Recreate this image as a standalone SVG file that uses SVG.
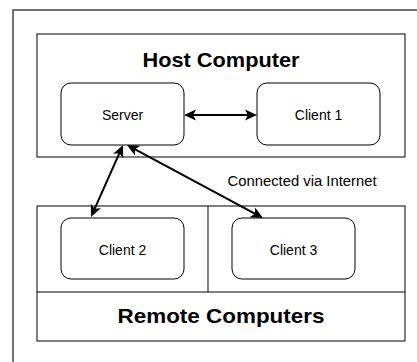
<svg xmlns="http://www.w3.org/2000/svg" width="417" height="362" viewBox="0 0 417 362">
  <style>
    .frame { fill: none; stroke: #444; stroke-width: 1.5; }
    .box { fill: #fff; stroke: #000; stroke-width: 1; }
    .node { fill: #fff; stroke: #000; stroke-width: 1; }
    .title { font-family: "Liberation Sans", Arial, Helvetica, sans-serif; font-weight: bold; font-size: 21px; fill: #000; text-anchor: middle; }
    .label { font-family: "Liberation Sans", Arial, Helvetica, sans-serif; font-size: 14px; fill: #000; text-anchor: middle; }
    .link { fill: none; stroke: #000; stroke-width: 2; marker-start: url(#arrow); marker-end: url(#arrow); }
  </style>
  <defs>
    <marker id="arrow" viewBox="0 0 12 12" refX="8" refY="6" markerWidth="12" markerHeight="12" markerUnits="userSpaceOnUse" orient="auto-start-reverse">
      <path d="M0,0.5 L12,6 L0,11.5 L3,6 Z" fill="#000"/>
    </marker>
  </defs>

  <rect fill="#fff" x="0" y="0" width="417" height="362"/>
  <!-- outer frame, running past the right and bottom edges -->
  <rect class="frame" x="13" y="10" width="420" height="370"/>

  <!-- host computer group -->
  <g id="host">
    <rect class="box" x="37" y="34" width="368" height="123"/>
    <text class="title" x="221" y="67" textLength="157" lengthAdjust="spacingAndGlyphs">Host Computer</text>
  </g>

  <!-- remote computers group -->
  <g id="remote">
    <rect class="box" x="37" y="206" width="368" height="135"/>
    <line x1="37" y1="292" x2="405" y2="292" stroke="#000" stroke-width="1"/>
    <line x1="208" y1="206" x2="208" y2="292" stroke="#000" stroke-width="1"/>
    <text class="title" x="221" y="323" textLength="207" lengthAdjust="spacingAndGlyphs">Remote  Computers</text>
  </g>

  <g id="server">
    <rect class="node" x="61" y="83" width="123" height="62" rx="10"/>
    <text class="label" x="122.5" y="120">Server</text>
  </g>
  <g id="client1">
    <rect class="node" x="257" y="83" width="123" height="62" rx="10"/>
    <text class="label" x="318.5" y="120">Client 1</text>
  </g>
  <g id="client2">
    <rect class="node" x="61" y="218" width="123" height="61" rx="10"/>
    <text class="label" x="122.5" y="254.5">Client 2</text>
  </g>
  <g id="client3">
    <rect class="node" x="232" y="218" width="123" height="61" rx="10"/>
    <text class="label" x="293.5" y="254.5">Client 3</text>
  </g>

  <!-- connectors -->
  <g id="connectors">
    <path class="link" d="M188,115 L253,115"/>
    <path class="link" d="M121.4,148.7 L92.6,213.3"/>
    <path class="link" d="M130.5,146.9 L259.5,216.1"/>
    <text class="label" x="302" y="186" textLength="149" lengthAdjust="spacingAndGlyphs">Connected via Internet</text>
  </g>
</svg>
